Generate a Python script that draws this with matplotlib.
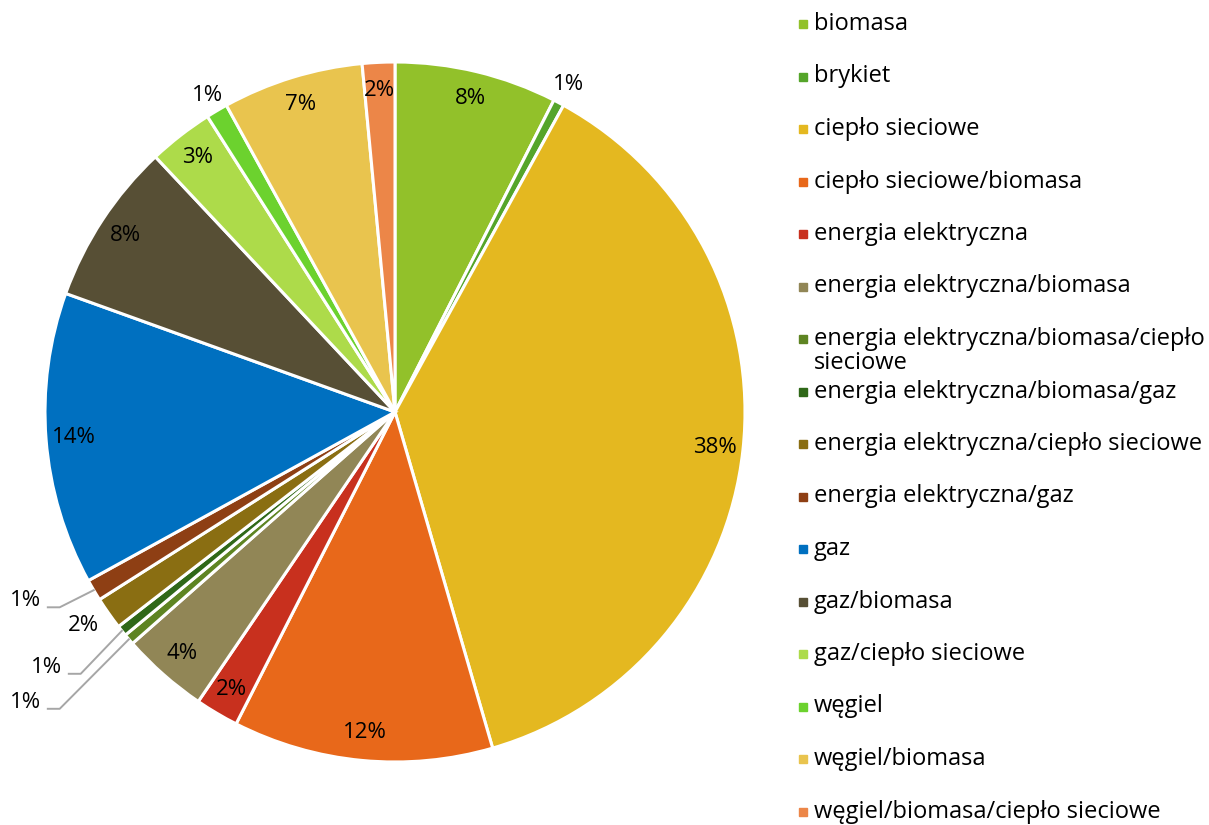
import numpy as np
import matplotlib
matplotlib.use("Agg")
import matplotlib.pyplot as plt
from matplotlib.patches import Rectangle

plt.rcParams['font.family'] = ['Open Sans', 'DejaVu Sans']

# liczba obiektów wg źródła ciepła (N = 200)
zrodla = ["biomasa", "brykiet", "ciepło sieciowe", "ciepło sieciowe/biomasa",
          "energia elektryczna", "energia elektryczna/biomasa",
          "energia elektryczna/biomasa/ciepło sieciowe",
          "energia elektryczna/biomasa/gaz",
          "energia elektryczna/ciepło sieciowe", "energia elektryczna/gaz",
          "gaz", "gaz/biomasa", "gaz/ciepło sieciowe", "węgiel",
          "węgiel/biomasa", "węgiel/biomasa/ciepło sieciowe"]
liczba = [15, 1, 75, 24, 4, 8, 1, 1, 3, 2, 27, 15, 6, 2, 13, 3]
kolory = ["#92C12A", "#55A52A", "#E4B820", "#E8681A", "#C8301E", "#918656",
          "#5E8422", "#2F6818", "#8A6E12", "#8E3F14", "#0070C0", "#574F35",
          "#ADDB4A", "#6CD22E", "#E9C44E", "#EC8648"]

# legenda z zawiniętą długą nazwą
etykiety_legendy = list(zrodla)
etykiety_legendy[6] = "energia elektryczna/biomasa/ciepło\nsieciowe"


def procent(p):
    # zaokrąglanie "połówek w górę", jak w arkuszu
    return "%d%%" % int(np.floor(p + 0.5 + 1e-9))


fig = plt.figure(figsize=(12.09, 8.25), dpi=100)
ax = fig.add_axes([45 / 1209, 63 / 825, 700 / 1209, 700 / 825])

wedges, texts, autotexts = ax.pie(
    liczba, colors=kolory, startangle=90, counterclock=False,
    autopct=procent, pctdistance=0.92,
    wedgeprops=dict(edgecolor="white", linewidth=2.2),
    textprops=dict(fontsize=16, color="black"))
ax.set_xlim(-1, 1)
ax.set_ylim(-1, 1)
ax.axis("off")


def srodek(w, r=1.0):
    a = np.deg2rad((w.theta1 + w.theta2) / 2)
    return r * np.cos(a), r * np.sin(a)


# małe wycinki: etykiety na zewnątrz
autotexts[1].set_position(srodek(wedges[1], 1.06))
autotexts[13].set_position(srodek(wedges[13], 1.05))
autotexts[8].set_position((-0.89, -0.61))

# etykiety z linią odniesienia (x prawej krawędzi tekstu, y)
odnosniki = {9: (-1.01, -0.54), 7: (-0.95, -0.73), 6: (-1.01, -0.83)}
for i, (xr, y) in odnosniki.items():
    t = autotexts[i]
    t.set_position((xr, y))
    t.set_ha("right")
    xe, ye = srodek(wedges[i], 1.0)
    yl = y - 0.018
    ax.plot([xr + 0.018, xr + 0.052, xe], [yl, yl, ye],
            color="#A6A6A6", lw=1.4, clip_on=False)

# legenda rysowana ręcznie w pikselach
lax = fig.add_axes([0, 0, 1, 1])
lax.set_xlim(0, 1209)
lax.set_ylim(825, 0)
lax.axis("off")
wys_linii = 24
for i, (nazwa, kol) in enumerate(zip(etykiety_legendy, kolory)):
    yc = 24 + i * 52.5
    lax.add_patch(Rectangle((799, yc - 4), 8, 8, color=kol))
    dodatkowe = nazwa.count("\n") * wys_linii
    lax.text(814, yc + 6 + dodatkowe, nazwa, fontsize=17, va="baseline",
             ha="left", linespacing=1.0)

fig.savefig("out.png", dpi=100)
